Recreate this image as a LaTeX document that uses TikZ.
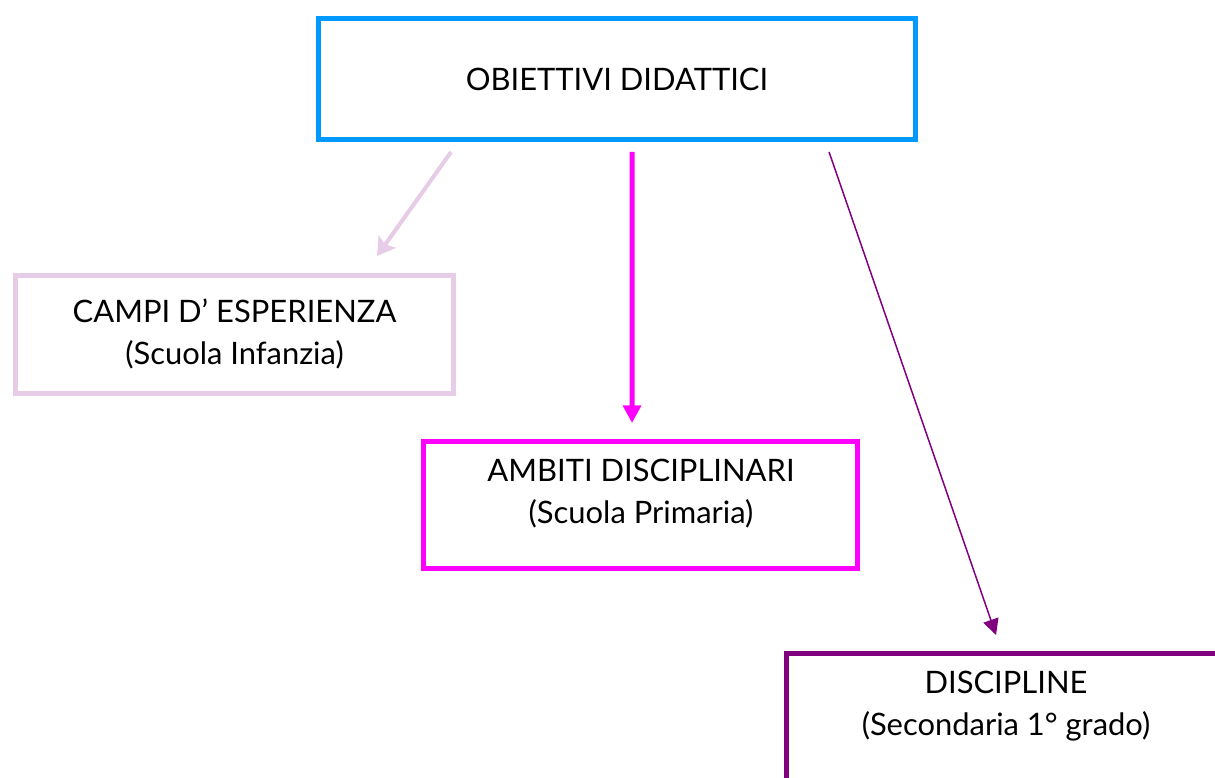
\documentclass[tikz,border=0pt]{standalone}
\usepackage{fontspec}
\setmainfont{Lato}
\usetikzlibrary{calc}
\usetikzlibrary{arrows.meta}
\definecolor{azzurro}{RGB}{0,153,255}
\definecolor{lilla}{RGB}{230,204,230}
\definecolor{fucsia}{RGB}{255,0,255}
\definecolor{viola}{RGB}{128,0,128}

\begin{document}
\begin{tikzpicture}[x=0.02cm, y=-0.02cm,
  box/.style={draw, line width=2.85pt, outer sep=0pt, inner sep=0pt},
  testo/.style={align=center, font=\fontsize{17.6}{24}\selectfont}]
  \useasboundingbox (0,0) rectangle (1215,778);
  \clip (0,0) rectangle (1215,778);

  % Riquadro principale
  \node[box, draw=azzurro, minimum width=11.94cm, minimum height=2.42cm, testo] (obiettivi) at (617,79) {OBIETTIVI DIDATTICI};

  % Campi d'esperienza
  \node[box, draw=lilla, minimum width=8.76cm, minimum height=2.36cm] (campi) at (234.5,334.5) {};
  \node[testo] (campitxt) at (234.5,334) {CAMPI D’ ESPERIENZA\\(Scuola Infanzia)};

  % Ambiti disciplinari
  \node[box, draw=fucsia, minimum width=8.68cm, minimum height=2.54cm] (ambiti) at (640.5,505) {};
  \node[testo] (ambititxt) at (641,493.5) {AMBITI DISCIPLINARI\\(Scuola Primaria)};

  % Discipline
  \node[box, draw=viola, minimum width=8.78cm, minimum height=2.6cm] (discipline) at (1006,718) {};
  \node[testo] (disciplinetxt) at (1006,706.5) {DISCIPLINE\\(Secondaria 1° grado)};

  % Freccia verso campi
  \draw[-{Stealth[length=10pt, width=12pt, inset=2pt]}, draw=lilla, fill=lilla, line width=2.3pt]
    ($(obiettivi.south west)+(132.5,12.5)$) -- ($(campi.north west)+(361.5,-19.5)$);

  % Freccia verso ambiti
  \draw[-{Triangle[length=10pt, width=10pt]}, draw=fucsia, fill=fucsia, line width=2.8pt]
    ($(obiettivi.south west)+(313.5,12.5)$) -- ($(ambiti.north west)+(208.5,-18.5)$);

  % Freccia verso discipline
  \draw[-{Triangle[length=9pt, width=9pt]}, draw=viola, fill=viola, line width=0.85pt]
    ($(obiettivi.south west)+(510.5,12.5)$) -- ($(discipline.north west)+(209.5,-18)$);

\end{tikzpicture}
\end{document}
